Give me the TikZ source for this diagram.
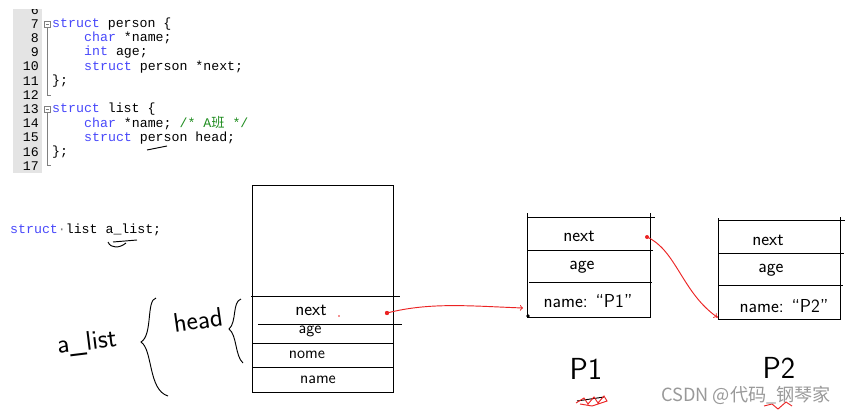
\documentclass[tikz,border=0pt]{standalone}
\usepackage{fontspec}
\setmonofont{Liberation Mono}
\newfontfamily\cjk{Noto Sans CJK SC}
\definecolor{kwblue}{RGB}{72,72,250}
\definecolor{cmtgreen}{RGB}{30,140,30}
\definecolor{gutter}{RGB}{228,228,228}
\definecolor{penred}{RGB}{235,35,35}
\newcommand{\codefont}{\fontsize{11.3}{13}\selectfont\ttfamily}
\newcommand{\kw}[1]{\textcolor{kwblue}{#1}}
\newcommand{\cmt}[1]{\textcolor{cmtgreen}{#1}}
\newcommand{\hand}[1]{\fontsize{#1}{#1}\selectfont\sffamily}
\begin{document}
\begin{tikzpicture}[x=0.03cm, y=-0.03cm,
  code/.style={anchor=west, inner sep=0pt, font=\codefont},
  lnum/.style={anchor=east, inner sep=0pt, font=\codefont},
  field/.style={inner sep=0pt, font=\hand{16}},
  small field/.style={inner sep=0pt, font=\hand{14}},
  label/.style={inner sep=0pt, font=\hand{#1}},
  rule/.style={line width=0.8pt},
  pen/.style={penred, thick}]
\useasboundingbox (0,0) rectangle (854,413);
% editor gutter
\fill[gutter] (13,9) rectangle (42,173);
\begin{scope}
\clip (13,9) rectangle (42,173);
\node[lnum] (ln6) at (39,9.8) {6};
\end{scope}
\foreach \n in {7,...,17} \node[lnum] (ln\n) at (39,{24+(\n-7)*14.2}) {\n};
\foreach \y/\e in {24/95, 109.2/165} {
  \draw[gray, line width=0.4pt] (44.5,\y-3) rectangle (50.5,\y+3);
  \draw[gray, line width=0.4pt] (45.8,\y) -- (49.2,\y);
  \draw[gray, line width=0.4pt] (47.5,\y+3) -- (47.5,\e) -- (51,\e);
}
% code
\node[code] (c7) at (52,24) {\kw{struct} person \{};
\node[code] (c8) at (84,38.2) {\kw{char} *name;};
\node[code] (c9) at (84,52.4) {\kw{int} age;};
\node[code] (c10) at (84,66.6) {\kw{struct} person *next;};
\node[code] (c11) at (52,80.8) {\};};
\node[code] (c13) at (52,109.2) {\kw{struct} list \{};
\node[code] (c14) at (84,123.4) {\kw{char} *name; \cmt{/* A{\cjk 班} */}};
\node[code] (c15) at (84,137.6) {\kw{struct} person head;};
\node[code] (c16) at (52,151.8) {\};};
\draw[thick] (147,150) -- (167,146);
\node[code] (decl) at (10,230) {\kw{struct}\textcolor{gray}{·}list a\_list;};
\draw[thick] (108,242) .. controls (111,249) and (120,248) .. (126,243);
\draw[thick] (113,242) -- (137,240);
% a_list / head braces
\node[label=23, rotate=7] (alist) at (87,343) {a\_list};
\draw[thick] (156,298) .. controls (146,300) and (153,335) .. (141,342)
  .. controls (153,350) and (148,390) .. (168,396);
\node[label=23, rotate=8] (head) at (198,320) {head};
\draw[thick] (241,299) .. controls (232,302) and (237,322) .. (229,329)
  .. controls (237,335) and (235,356) .. (243,363);
% a_list box
\draw[rule] (252,185) rectangle (393,392);
\draw[rule] (251,296) -- (400,296);
\draw[rule] (258,324) -- (402,324);
\draw[rule] (252,343) -- (393,343);
\draw[rule] (252,367) -- (393,367);
\node[field] (b-next) at (311,310) {next};
\node[small field] (b-age) at (310,331) {age};
\node[small field] (b-nome) at (307,355) {nome};
\node[small field] (b-name) at (318,380) {name};
\fill[penred] (339,316) circle (0.9);
% person p1
\draw[rule] (527,213) -- (527,317) -- (650,317) -- (650,213);
\draw[rule] (527,217) -- (655,217);
\draw[rule] (527,250) -- (653,250);
\draw[rule] (529,282) -- (652,282);
\node[field] (p1-next) at (579,236) {next};
\node[field] (p1-age) at (582,267) {age};
\node[field] (p1-name) at (588,301) {name: “P1”};
\node[label=26] (p1) at (586,369) {P1};
% person p2
\draw[rule] (718,218) -- (718,319) -- (840,319) -- (840,217);
\draw[rule] (718,220) -- (845,220);
\draw[rule] (718,253) -- (844,253);
\draw[rule] (718,285) -- (843,285);
\node[field] (p2-next) at (768,240) {next};
\node[field] (p2-age) at (771,270) {age};
\node[field] (p2-name) at (784,306) {name: “P2”};
\node[label=26] (p2) at (779,368) {P2};
% links
\coordinate (bdot) at (387,313);
\coordinate (p1corner) at (528,316);
\coordinate (p1dot) at (647,237);
\coordinate (p2corner) at (717,317);
\fill[penred] (bdot) circle (2.2);
\fill[penred] (p1dot) circle (2);
\fill (p1corner) circle (1.8);
\fill[penred] (p2corner) circle (1.2);
\draw[pen, ->] (bdot) .. controls (430,302) and (470,306) .. (523,308);
\draw[pen, ->] (p1dot) .. controls (676,250) and (682,292) .. (p2corner);
% scribbles
\draw[thick] (577,401) -- (604,397);
\draw[penred, thick] (576,403) -- (584,398) -- (588,404) -- (594,397) -- (598,403)
  -- (604,396) -- (607,401) -- (592,406) -- (580,404);
\draw[penred, thick] (764,406) -- (772,404) -- (778,409) -- (786,402) -- (792,406);
% watermark
\node[font=\cjk\fontsize{15.5}{17}\selectfont, text=black!40, anchor=west, inner sep=0pt] (mark) at (661,395) {CSDN @代码\_钢琴家};
\end{tikzpicture}
\end{document}
